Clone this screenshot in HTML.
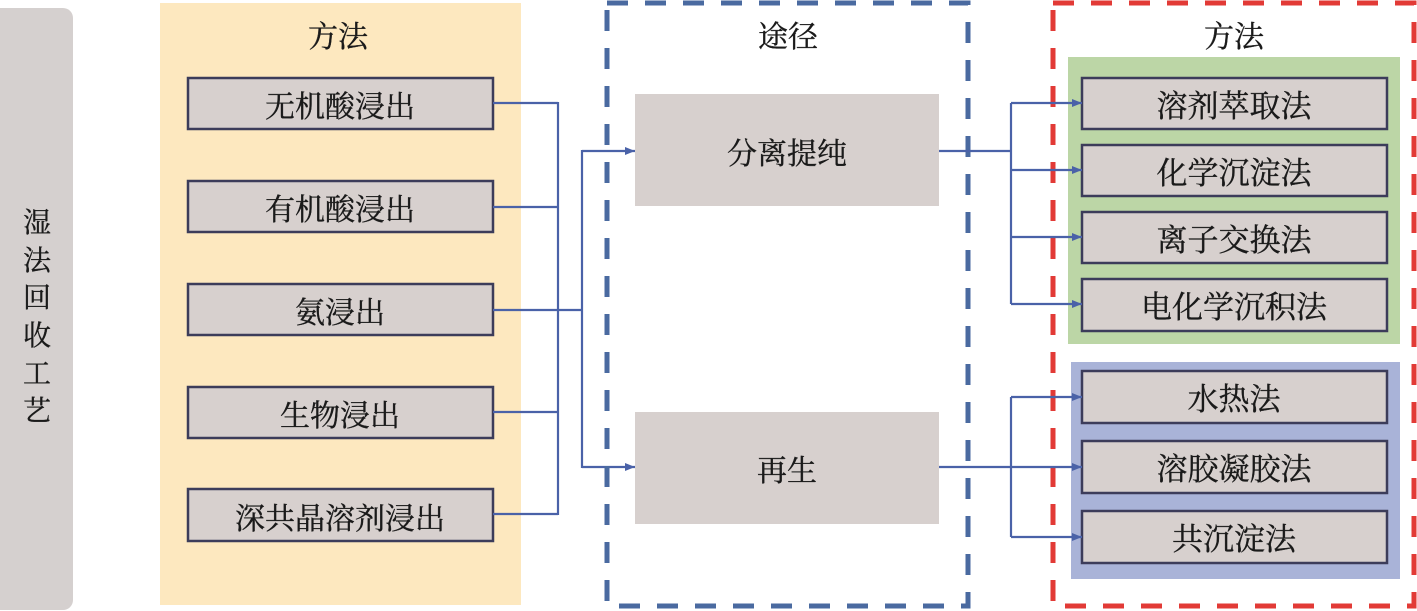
<!DOCTYPE html>
<html><head><meta charset="utf-8">
<style>
html,body{margin:0;padding:0;background:#fff;}
svg{display:block;}
text{font-family:"Liberation Serif","Noto Serif CJK SC","Noto Sans CJK SC",serif;fill:#1a1a1a;stroke:#1a1a1a;stroke-width:0.35;}
</style></head>
<body>
<svg width="1417" height="611" viewBox="0 0 1417 611" xmlns="http://www.w3.org/2000/svg">
<defs>
<marker id="ah" markerWidth="10" markerHeight="8" refX="10" refY="4" orient="auto" markerUnits="userSpaceOnUse">
<path d="M0,0 L10,4 L0,8 Z" fill="#4a62a8"/>
</marker>
</defs>
<!-- left gray bar -->
<rect x="-10" y="8" width="83" height="602" rx="10" fill="#d5d0cf"/>
<g font-size="28" text-anchor="middle">
<text x="37" y="232">湿</text>
<text x="37" y="270">法</text>
<text x="37" y="307">回</text>
<text x="37" y="345">收</text>
<text x="37" y="383">工</text>
<text x="37" y="420">艺</text>
</g>
<!-- yellow panel -->
<rect x="160" y="3" width="361" height="602" fill="#fde8bf"/>
<text x="338" y="47" font-size="30" text-anchor="middle">方法</text>
<g fill="#d7d0ce" stroke="#3c3c5a" stroke-width="2.5">
<rect x="188" y="78" width="305" height="51"/>
<rect x="188" y="181" width="305" height="51"/>
<rect x="188" y="284" width="305" height="51"/>
<rect x="188" y="387" width="305" height="51"/>
<rect x="188" y="489" width="305" height="52"/>
</g>
<g font-size="30" text-anchor="middle">
<text x="340" y="117">无机酸浸出</text>
<text x="340" y="220">有机酸浸出</text>
<text x="340" y="323">氨浸出</text>
<text x="340" y="426">生物浸出</text>
<text x="340" y="529">深共晶溶剂浸出</text>
</g>
<!-- left connectors -->
<g stroke="#4a62a8" stroke-width="2.2" fill="none">
<path d="M493,103 H558 M493,207 H558 M493,310 H582 M493,412 H558 M493,514 H558 M558,102 V515"/>
<path d="M582,150 V468"/>
<path d="M582,151 H635" marker-end="url(#ah)"/>
<path d="M582,467 H635" marker-end="url(#ah)"/>
</g>
<!-- blue dashed -->
<rect x="607" y="3" width="361" height="603" fill="none" stroke="#4a6aa0" stroke-width="5" stroke-dasharray="21 17"/>
<text x="788" y="47" font-size="30" text-anchor="middle">途径</text>
<rect x="635" y="94" width="304" height="112" fill="#d7d0ce"/>
<rect x="635" y="412" width="304" height="112" fill="#d7d0ce"/>
<text x="787" y="164" font-size="30" text-anchor="middle">分离提纯</text>
<text x="787" y="481" font-size="30" text-anchor="middle">再生</text>
<!-- red dashed -->
<rect x="1053" y="3" width="361" height="603" fill="none" stroke="#e23a36" stroke-width="5" stroke-dasharray="21 17"/>
<text x="1234" y="47" font-size="30" text-anchor="middle">方法</text>
<rect x="1068" y="57" width="332" height="287" fill="#bcd6a6"/>
<rect x="1071" y="362" width="329" height="217" fill="#a9b3d8"/>
<g fill="#d7d0ce" stroke="#3c3c5a" stroke-width="2.5">
<rect x="1082" y="78" width="305" height="51"/>
<rect x="1082" y="145" width="305" height="51"/>
<rect x="1082" y="212" width="305" height="51"/>
<rect x="1082" y="279" width="305" height="52"/>
<rect x="1082" y="371" width="305" height="52"/>
<rect x="1082" y="441" width="305" height="52"/>
<rect x="1082" y="511" width="305" height="52"/>
</g>
<g font-size="31" text-anchor="middle">
<text x="1234" y="117">溶剂萃取法</text>
<text x="1234" y="184">化学沉淀法</text>
<text x="1234" y="251">离子交换法</text>
<text x="1234" y="318">电化学沉积法</text>
<text x="1234" y="410">水热法</text>
<text x="1234" y="480">溶胶凝胶法</text>
<text x="1234" y="550">共沉淀法</text>
</g>
<!-- right connectors -->
<g stroke="#4a62a8" stroke-width="2.2" fill="none">
<path d="M939,151 H1011 M1011,103 V304"/>
<path d="M1011,103 H1082" marker-end="url(#ah)"/>
<path d="M1011,170 H1082" marker-end="url(#ah)"/>
<path d="M1011,237 H1082" marker-end="url(#ah)"/>
<path d="M1011,304 H1082" marker-end="url(#ah)"/>
<path d="M939,467 H1011 M1011,397 V537"/>
<path d="M1011,397 H1082" marker-end="url(#ah)"/>
<path d="M1011,467 H1082" marker-end="url(#ah)"/>
<path d="M1011,537 H1082" marker-end="url(#ah)"/>
</g>
</svg>
</body></html>
